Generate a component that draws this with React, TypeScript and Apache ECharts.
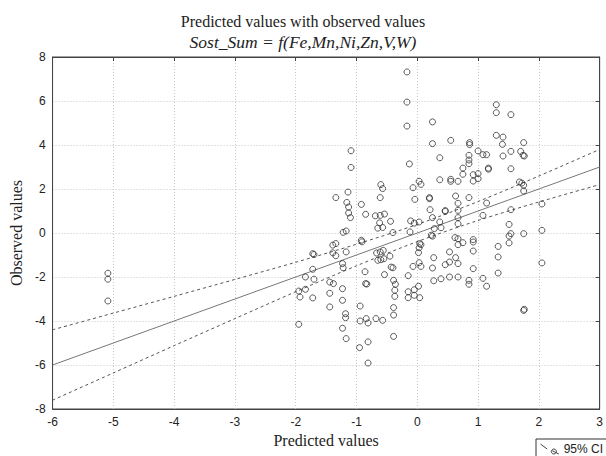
import React, { useEffect, useRef } from "react";
import * as echarts from "echarts";

// Predicted (x) and observed (y) values
const predicted = [
  -5.09, -5.09, -5.09,
  -0.17, -0.17, -0.17, -1.09, -1.09, -0.13, -0.6, -0.57, -1.14, -1.34, -1.16, -1.13, -0.61, -0.92,
  -1.13, -1.1, -0.85, -0.69, -0.61, -0.54, -0.62, -0.65, -0.57, -0.44, -1.22, -1.17, -0.4, -1.39,
  -1.34, -0.92, -0.91, -1.72, -1.7, -1.39, -1.34, -1.17, -1.23, -1.22, -0.67, -0.61, -0.56, -0.65,
  -0.6, -0.55, -0.45, -0.43, -0.4, -0.54, -1.72, -1.84, -1.7, -1.95, -1.93, -1.84, -1.72, -1.44,
  -1.38, -1.44, -1.44, -1.23, -1.23, -1.18, -1.18, -1.23, -1.17, -0.86, -0.85, -0.83, -0.94, -0.94,
  -0.84, -0.81, -0.68, -0.57, -0.95, -0.81, -0.81, -1.95, -0.39, -0.36, -0.37, -0.37, -0.39, -0.39,
  -0.39,
  -0.11, -0.05, 0.03, -0.12, 0.25, 0.37, 0.39, 0.28, 0.23, 0.25, 0.67, 0.67, 1.51, 1.54, 1.51,
  1.51, 1.75, 2.05, 2.05, 0.04, 0.06, 0.03, 0.02, 0.27, 0.25, -0.07, 0.03, 0.06, -0.15, 0.53,
  0.62, 0.67, 0.67, 0.75, 0.92, 0.92, 0.92, 0.63, 0.53, 0.46, 0.67, 0.92, 1.33, 1.33, 1.33, 0.27,
  0.39, 0.53, 0.67, 0.85, 0.85, 1.08, 1.14, 0.02, -0.05, -0.15, -0.15, -0.05, 0.04, 1.75, 1.76,
  0.25, 0.25, 0.55, 0.37, 0.86, 0.86, 0.85, 0.85, 0.85, 1.0, 1.08, 1.14, 0.75, 0.75, 0.92, 0.92,
  1.0, 1.0, 1.17, 1.17, 1.3, 1.3, 1.54, 1.3, 1.41, 1.4, 1.41, 1.54, 1.54, 1.7, 1.74, 1.76, 1.75,
  1.68, 1.72, 1.75, 1.75, 2.05, -0.07, 0.03, 0.06, -0.04, 0.2, 0.2, 0.37, 0.55, 0.55, 0.67, 0.63,
  0.67, 0.67, 0.85, 1.14, 0.21, 0.46, 0.46, 1.54, 1.08,
];
const observed = [
  -1.83, -2.1, -3.09,
  7.32, 5.95, 4.86, 3.74, 2.98, 3.14, 2.2, 2.02, 1.86, 1.61, 1.39, 1.18, 1.61, 1.3,
  0.91, 0.7, 0.85, 0.78, 0.8, 0.86, 0.46, 0.22, 0.25, 0.53, 0.03, 0.09, 0.02, -0.55,
  -0.48, -0.33, -0.4, -0.94, -0.98, -0.9, -1.03, -0.86, -1.39, -1.58, -0.91, -0.86, -0.79, -1.24,
  -1.21, -1.17, -1.05, -1.55, -1.58, -1.89, -1.65, -2.0, -2.1, -2.64, -2.91, -2.56, -2.95, -2.23,
  -2.3, -2.74, -3.36, -2.53, -3.06, -3.67, -3.85, -4.33, -4.8, -1.76, -2.3, -2.32, -3.32, -4.0,
  -3.89, -4.09, -3.89, -3.97, -5.21, -4.95, -5.91, -4.15, -2.15, -2.33, -2.6, -2.88, -3.39, -3.73,
  -4.7,
  0.55, 0.45, 0.5, 0.05, 0.7, 0.5, 0.24, 0.2, -0.1, -0.14, 0.7, 0.42, 0.39, -0.03, -0.14,
  -0.45, -0.03, 0.12, -1.36, -0.48, -0.53, -0.67, -0.89, -1.12, -1.59, -1.52, -1.35, -1.52, -1.94, -0.86,
  -0.21, -0.26, -0.53, -0.44, -0.3, -0.41, -0.82, -1.12, -1.32, -1.44, -1.39, -1.62, -0.61, -1.09, -1.82, -2.17,
  -2.08, -2.0, -2.0, -2.15, -2.33, -2.06, -2.42, -2.42, -2.58, -2.67, -2.94, -2.83, -2.94, -3.52, -3.47,
  5.05, 4.06, 4.21, 3.42, 4.11, 4.02, 3.53, 3.32, 3.15, 3.73, 3.56, 3.56, 2.95, 2.67, 2.65, 2.36,
  2.7, 2.47, 2.95, 2.9, 5.83, 5.47, 5.38, 4.44, 4.36, 4.03, 3.5, 3.71, 2.92, 3.71, 3.53, 3.5, 4.11,
  2.32, 2.27, 2.17, 1.91, 1.32, 2.06, 2.35, 2.21, 1.53, 1.61, 1.56, 2.42, 2.44, 2.35, 2.35, 1.68,
  1.35, 1.03, 1.61, 1.36, 1.06, 1.02, 0.98, 1.06, 0.8,
];

// Regression line and its 95% confidence band
const fitX = [-6, 3];
const fitY = [-6, 3];
const ciX = [-6, -5, -4, -3, -2, -1, 0, 1, 2, 3];
const ciUpper = [-4.4, -3.64, -2.88, -2.11, -1.33, -0.51, 0.39, 1.43, 2.59, 3.8];
const ciLower = [-7.6, -6.36, -5.12, -3.89, -2.67, -1.49, -0.39, 0.57, 1.41, 2.2];

const titleText = "Predicted values with observed values";
const subtitleText = "Sost_Sum = f(Fe,Mn,Ni,Zn,V,W)";
const xName = "Predicted values";
const yName = "Observed values";
const legendName = "95% CI";

const SERIF = "'Times New Roman', 'Liberation Serif', serif";
const SANS = "Arial, 'Liberation Sans', sans-serif";

export default function App() {
  const ref = useRef<HTMLDivElement>(null);
  useEffect(() => {
    if (!ref.current) return;
    const chart = echarts.init(ref.current, null, { renderer: "svg" });
    const pts = predicted.map((x, i) => [x, observed[i]]);
    const fit = fitX.map((x, i) => [x, fitY[i]]);
    const up = ciX.map((x, i) => [x, ciUpper[i]]);
    const lo = ciX.map((x, i) => [x, ciLower[i]]);
    const axisLabelX = { color: "#222", fontFamily: SANS, fontSize: 12, margin: 7 };
    const axisLabelY = { color: "#222", fontFamily: SANS, fontSize: 12, margin: 7 };
    chart.setOption({
      animation: false,
      backgroundColor: "#fff",
      title: [
        {
          text: titleText,
          left: "center",
          top: 8,
          textStyle: { fontFamily: SERIF, fontSize: 16, fontWeight: "normal", color: "#222" },
        },
        {
          text: subtitleText,
          left: "center",
          top: 28,
          textStyle: { fontFamily: SERIF, fontSize: 17.5, fontStyle: "italic", fontWeight: "normal", color: "#222" },
        },
      ],
      legend: {
        data: [legendName],
        left: 536,
        top: 439,
        orient: "horizontal",
        backgroundColor: "#fff",
        borderColor: "#333",
        borderWidth: 1,
        borderRadius: 0,
        padding: [4, 30, 6, 4],
        itemWidth: 22,
        itemHeight: 10,
        itemGap: 4,
        textStyle: { fontFamily: SANS, fontSize: 12, color: "#222", padding: [0, 0, 0, -2] },
        icon: "path://M0,0 L8,6 M14,8 L22,12 M16,6 a3,3 0 1,0 0.01,0",
        itemStyle: { color: "transparent", borderColor: "#444", borderWidth: 1 },
      },
      grid: {
        left: 51,
        top: 57,
        right: 6,
        bottom: 47,
        show: true,
        borderColor: "#444",
        borderWidth: 1,
      },
      xAxis: [
        {
          type: "value",
          min: -6,
          max: 3,
          interval: 1,
          name: xName,
          nameLocation: "middle",
          nameGap: 22,
          nameTextStyle: { fontFamily: SERIF, fontSize: 16, color: "#222" },
          axisLine: { show: true, onZero: false, lineStyle: { color: "#444" } },
          axisTick: { show: false },
          axisLabel: axisLabelX,
          splitLine: { show: true, lineStyle: { color: "#c8c8c8", type: [1, 2] } },
        },
        {
          type: "value",
          position: "top",
          min: -6,
          max: 3,
          interval: 1,
          axisLine: { show: true, onZero: false, lineStyle: { color: "#444" } },
          axisTick: { show: true, inside: true, length: 4, lineStyle: { color: "#444" } },
          axisLabel: { show: false },
          splitLine: { show: false },
        },
      ],
      yAxis: [
        {
          type: "value",
          min: -8,
          max: 8,
          interval: 2,
          name: yName,
          nameLocation: "middle",
          nameGap: 24,
          nameTextStyle: { fontFamily: SERIF, fontSize: 16, color: "#222" },
          axisLine: { show: true, onZero: false, lineStyle: { color: "#444" } },
          axisTick: { show: false },
          axisLabel: axisLabelY,
          splitLine: { show: true, lineStyle: { color: "#c8c8c8", type: [1, 2] } },
        },
        {
          type: "value",
          position: "right",
          min: -8,
          max: 8,
          interval: 2,
          axisLine: { show: true, onZero: false, lineStyle: { color: "#444" } },
          axisTick: { show: true, inside: true, length: 4, lineStyle: { color: "#444" } },
          axisLabel: { show: false },
          splitLine: { show: false },
        },
      ],
      series: [
        {
          name: "Observed",
          type: "scatter",
          data: pts,
          symbol: "circle",
          symbolSize: 6,
          itemStyle: { color: "transparent", borderColor: "#333", borderWidth: 1 },
          z: 3,
        },
        {
          name: "Fit",
          type: "line",
          data: fit,
          showSymbol: false,
          lineStyle: { color: "#777", width: 1 },
          z: 2,
        },
        {
          name: legendName,
          type: "line",
          data: up,
          smooth: 0.3,
          showSymbol: false,
          lineStyle: { color: "#555", width: 1, type: [3, 3] },
          itemStyle: { color: "#555" },
          z: 2,
        },
        {
          name: legendName,
          type: "line",
          data: lo,
          smooth: 0.3,
          showSymbol: false,
          lineStyle: { color: "#555", width: 1, type: [3, 3] },
          itemStyle: { color: "#555" },
          z: 2,
        },
      ],
    });
    return () => chart.dispose();
  }, []);
  return <div ref={ref} style={{ width: 606, height: 456, position: "absolute", left: 0, top: 0 }} />;
}
